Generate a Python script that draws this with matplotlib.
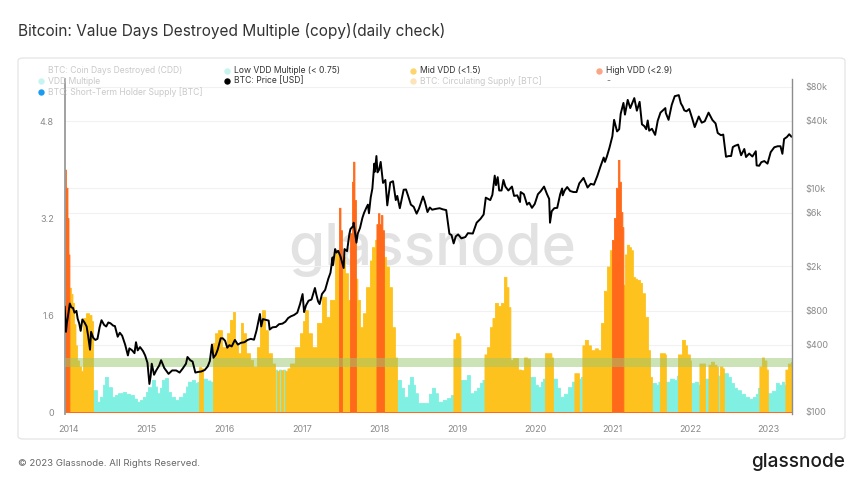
import numpy as np
import pandas as pd
import matplotlib
matplotlib.use("Agg")
import matplotlib.pyplot as plt
from matplotlib.lines import Line2D
from matplotlib.patches import FancyBboxPatch

plt.rcParams['font.family'] = ['Inter', 'DejaVu Sans']

# ---------------- data ----------------
# BTC price (USD)
price_dates = [
    "2013-12-12", "2013-12-18", "2013-12-22", "2013-12-28", "2014-01-05", "2014-01-12", "2014-01-20", "2014-01-27",
    "2014-02-05", "2014-02-11", "2014-02-18", "2014-02-25", "2014-03-05", "2014-03-15", "2014-03-25", "2014-04-01",
    "2014-04-10", "2014-04-15", "2014-04-25", "2014-05-05", "2014-05-15", "2014-05-25", "2014-06-03", "2014-06-15",
    "2014-06-25", "2014-07-05", "2014-07-15", "2014-07-28", "2014-08-05", "2014-08-18", "2014-08-28", "2014-09-08",
    "2014-09-22", "2014-10-05", "2014-10-12", "2014-10-25", "2014-11-05", "2014-11-12", "2014-11-20", "2014-12-01",
    "2014-12-15", "2014-12-25", "2015-01-05", "2015-01-14", "2015-01-20", "2015-01-25", "2015-02-05", "2015-02-15",
    "2015-03-01", "2015-03-10", "2015-03-25", "2015-04-14", "2015-05-01", "2015-05-20", "2015-06-05", "2015-06-20",
    "2015-07-05", "2015-07-12", "2015-07-25", "2015-08-05", "2015-08-18", "2015-09-01", "2015-09-15", "2015-10-01",
    "2015-10-15", "2015-10-25", "2015-11-04", "2015-11-11", "2015-11-22", "2015-12-01", "2015-12-15", "2015-12-25",
    "2016-01-05", "2016-01-15", "2016-01-25", "2016-02-05", "2016-02-20", "2016-03-05", "2016-03-20", "2016-04-05",
    "2016-04-20", "2016-05-05", "2016-05-20", "2016-06-01", "2016-06-12", "2016-06-17", "2016-06-23", "2016-07-01",
    "2016-07-15", "2016-07-28", "2016-08-02", "2016-08-15", "2016-09-01", "2016-09-15", "2016-10-01", "2016-10-15",
    "2016-10-28", "2016-11-10", "2016-11-25", "2016-12-10", "2016-12-23", "2017-01-04", "2017-01-11", "2017-01-20",
    "2017-02-01", "2017-02-15", "2017-03-03", "2017-03-10", "2017-03-18", "2017-03-25", "2017-04-05", "2017-04-20",
    "2017-05-05", "2017-05-15", "2017-05-25", "2017-05-27", "2017-06-06", "2017-06-12", "2017-06-20", "2017-07-01",
    "2017-07-16", "2017-07-20", "2017-08-01", "2017-08-12", "2017-08-17", "2017-08-30", "2017-09-01", "2017-09-14",
    "2017-09-20", "2017-10-01", "2017-10-12", "2017-10-20", "2017-11-01", "2017-11-07", "2017-11-12", "2017-11-20",
    "2017-11-28", "2017-12-07", "2017-12-10", "2017-12-17", "2017-12-22", "2017-12-29", "2018-01-06", "2018-01-17",
    "2018-01-28", "2018-02-06", "2018-02-20", "2018-03-05", "2018-03-18", "2018-03-25", "2018-04-06", "2018-04-24",
    "2018-05-05", "2018-05-15", "2018-05-28", "2018-06-10", "2018-06-24", "2018-07-05", "2018-07-24", "2018-08-01",
    "2018-08-14", "2018-08-25", "2018-09-05", "2018-09-20", "2018-10-10", "2018-10-25", "2018-11-10", "2018-11-20",
    "2018-11-25", "2018-12-05", "2018-12-15", "2018-12-25", "2019-01-05", "2019-01-20", "2019-02-08", "2019-02-20",
    "2019-03-15", "2019-04-02", "2019-04-20", "2019-05-05", "2019-05-15", "2019-05-25", "2019-06-05", "2019-06-15",
    "2019-06-26", "2019-07-02", "2019-07-10", "2019-07-17", "2019-07-28", "2019-08-06", "2019-08-15", "2019-08-29",
    "2019-09-15", "2019-09-25", "2019-10-10", "2019-10-23", "2019-10-26", "2019-11-10", "2019-11-25", "2019-12-05",
    "2019-12-18", "2019-12-31", "2020-01-15", "2020-01-28", "2020-02-13", "2020-02-27", "2020-03-08", "2020-03-12",
    "2020-03-20", "2020-04-01", "2020-04-15", "2020-04-29", "2020-05-08", "2020-05-11", "2020-05-20", "2020-06-01",
    "2020-06-15", "2020-07-01", "2020-07-15", "2020-07-28", "2020-08-17", "2020-09-05", "2020-09-20", "2020-10-05",
    "2020-10-21", "2020-11-05", "2020-11-20", "2020-11-26", "2020-12-05", "2020-12-17", "2020-12-31", "2021-01-08",
    "2021-01-22", "2021-02-01", "2021-02-08", "2021-02-21", "2021-02-28", "2021-03-13", "2021-03-25", "2021-04-13",
    "2021-04-25", "2021-05-08", "2021-05-19", "2021-05-30", "2021-06-08", "2021-06-15", "2021-06-22", "2021-07-05",
    "2021-07-20", "2021-08-01", "2021-08-14", "2021-09-06", "2021-09-08", "2021-09-21", "2021-10-06", "2021-10-20",
    "2021-11-08", "2021-11-18", "2021-11-26", "2021-12-04", "2021-12-14", "2021-12-27", "2022-01-10", "2022-01-22",
    "2022-02-10", "2022-02-24", "2022-03-10", "2022-03-28", "2022-04-15", "2022-04-30", "2022-05-10", "2022-05-25",
    "2022-06-05", "2022-06-13", "2022-06-18", "2022-07-01", "2022-07-12", "2022-07-20", "2022-07-30", "2022-08-14",
    "2022-08-28", "2022-09-12", "2022-09-20", "2022-10-05", "2022-10-20", "2022-11-05", "2022-11-09", "2022-11-21",
    "2022-12-01", "2022-12-15", "2022-12-30", "2023-01-14", "2023-01-31", "2023-02-16", "2023-03-01", "2023-03-10",
    "2023-03-18", "2023-03-31", "2023-04-11", "2023-04-21",
]
price_usd = [
    870, 520, 620, 730, 930, 860, 850, 770,
    800, 680, 620, 530, 670, 630, 580, 480,
    360, 520, 460, 440, 450, 570, 660, 600,
    580, 630, 620, 590, 585, 470, 510, 480,
    400, 320, 370, 355, 335, 420, 355, 380,
    350, 320, 275, 178, 210, 270, 215, 235,
    260, 290, 247, 219, 235, 235, 225, 245,
    270, 310, 290, 282, 225, 228, 230, 237,
    255, 285, 400, 305, 325, 360, 455, 455,
    432, 375, 395, 385, 440, 400, 415, 420,
    440, 450, 442, 535, 670, 750, 580, 675,
    665, 655, 545, 570, 575, 608, 615, 640,
    690, 715, 735, 770, 920, 1130, 780, 895,
    985, 1010, 1280, 1110, 970, 920, 1130, 1230,
    1550, 1750, 2400, 2050, 2850, 2650, 2750, 2450,
    1930, 2850, 2730, 3900, 4300, 4580, 4900, 3250,
    3900, 4400, 5400, 6000, 6750, 7100, 5950, 8200,
    9900, 16500, 14000, 19300, 13800, 14500, 17100, 11100,
    11800, 7000, 11200, 11500, 7800, 8500, 6600, 9650,
    9700, 8500, 7100, 6800, 5900, 6550, 8400, 7600,
    6100, 6700, 6400, 6500, 6600, 6450, 6350, 4600,
    3900, 3800, 3200, 3700, 3850, 3550, 3650, 3950,
    3920, 4900, 5300, 5800, 8200, 8000, 7800, 8700,
    12900, 10600, 12500, 9500, 9500, 11800, 10300, 9500,
    10300, 8500, 8600, 7500, 9200, 8800, 7100, 7400,
    6650, 7200, 8800, 9350, 10300, 8800, 8000, 4900,
    6200, 6600, 6650, 8800, 9900, 8600, 9500, 10200,
    9400, 9200, 9200, 11000, 12300, 10100, 10900, 10700,
    12800, 15600, 18700, 17100, 19100, 22800, 29000, 40600,
    32000, 33500, 46000, 57500, 45200, 61200, 51700, 63500,
    49000, 58800, 37000, 35700, 33500, 40100, 32500, 33800,
    29800, 39800, 47100, 51700, 46800, 40600, 55300, 66000,
    67500, 56900, 53600, 49300, 48400, 50700, 41900, 35000,
    43500, 38300, 39400, 47100, 40500, 37700, 31000, 29600,
    30000, 22500, 19000, 19300, 19300, 23200, 23800, 24400,
    19600, 22300, 18900, 20300, 19100, 21300, 15900, 15800,
    17000, 17400, 16500, 20900, 23100, 23600, 23600, 20200,
    27400, 28500, 30200, 28800,
]

# VDD multiple (decimal year, value, regime: L=low, M=mid, H=high)
vdd_year = [
    2013.949, 2013.961, 2013.981, 2013.994, 2014.006, 2014.026, 2014.045, 2014.064, 2014.084, 2014.103,
    2014.129, 2014.155, 2014.180, 2014.219, 2014.258, 2014.290, 2014.309, 2014.360, 2014.399, 2014.438,
    2014.464, 2014.502, 2014.554, 2014.592, 2014.631, 2014.695, 2014.734, 2014.785, 2014.837, 2014.876,
    2014.914, 2014.953, 2014.991, 2015.017, 2015.069, 2015.107, 2015.133, 2015.172, 2015.197, 2015.236,
    2015.275, 2015.313, 2015.365, 2015.416, 2015.468, 2015.506, 2015.532, 2015.584, 2015.622, 2015.654,
    2015.674, 2015.700, 2015.725, 2015.777, 2015.822, 2015.854, 2015.880, 2015.918, 2015.970, 2016.034,
    2016.073, 2016.111, 2016.137, 2016.176, 2016.214, 2016.240, 2016.279, 2016.330, 2016.369, 2016.420,
    2016.459, 2016.485, 2016.524, 2016.562, 2016.614, 2016.652, 2016.678, 2016.704, 2016.730, 2016.755,
    2016.781, 2016.813, 2016.845, 2016.910, 2016.974, 2017.013, 2017.039, 2017.077, 2017.129, 2017.193,
    2017.257, 2017.309, 2017.360, 2017.425, 2017.457, 2017.476, 2017.496, 2017.515, 2017.553, 2017.592,
    2017.618, 2017.644, 2017.657, 2017.676, 2017.695, 2017.714, 2017.747, 2017.785, 2017.824, 2017.875,
    2017.901, 2017.940, 2017.959, 2017.978, 2017.998, 2018.017, 2018.036, 2018.056, 2018.081, 2018.120,
    2018.159, 2018.197, 2018.223, 2018.275, 2018.313, 2018.365, 2018.390, 2018.429, 2018.455, 2018.493,
    2018.583, 2018.635, 2018.674, 2018.712, 2018.751, 2018.815, 2018.867, 2018.918, 2018.950, 2018.983,
    2019.021, 2019.041, 2019.073, 2019.124, 2019.163, 2019.214, 2019.253, 2019.292, 2019.324, 2019.350,
    2019.382, 2019.420, 2019.453, 2019.485, 2019.523, 2019.562, 2019.601, 2019.633, 2019.659, 2019.684,
    2019.717, 2019.742, 2019.781, 2019.820, 2019.858, 2019.897, 2019.935, 2020.000, 2020.038, 2020.077,
    2020.103, 2020.128, 2020.180, 2020.212, 2020.232, 2020.283, 2020.322, 2020.373, 2020.425, 2020.476,
    2020.508, 2020.534, 2020.566, 2020.592, 2020.611, 2020.643, 2020.682, 2020.721, 2020.772, 2020.811,
    2020.850, 2020.888, 2020.927, 2020.965, 2020.991, 2021.017, 2021.043, 2021.068, 2021.088, 2021.107,
    2021.126, 2021.139, 2021.158, 2021.184, 2021.210, 2021.236, 2021.261, 2021.287, 2021.313, 2021.352,
    2021.378, 2021.416, 2021.455, 2021.481, 2021.506, 2021.558, 2021.590, 2021.609, 2021.648, 2021.674,
    2021.686, 2021.738, 2021.790, 2021.828, 2021.841, 2021.893, 2021.931, 2021.957, 2021.995, 2022.008,
    2022.060, 2022.099, 2022.118, 2022.163, 2022.189, 2022.214, 2022.234, 2022.266, 2022.305, 2022.337,
    2022.356, 2022.382, 2022.414, 2022.433, 2022.485, 2022.523, 2022.562, 2022.601, 2022.652, 2022.704,
    2022.755, 2022.807, 2022.845, 2022.871, 2022.890, 2022.922, 2022.948, 2022.980, 2022.999, 2023.051,
    2023.103, 2023.141, 2023.180, 2023.206, 2023.225, 2023.257, 2023.283, 2023.300,
]
vdd_value = [
    4.00, 3.70, 3.20, 2.60, 2.05, 1.95, 1.80, 1.45, 1.10, 0.85,
    0.75, 0.68, 1.55, 1.63, 1.60, 1.50, 0.36, 0.17, 0.25, 0.45,
    0.58, 0.41, 0.25, 0.28, 0.31, 0.33, 0.30, 0.28, 0.22, 0.17,
    0.20, 0.25, 0.33, 0.41, 0.53, 0.42, 0.31, 0.40, 0.53, 0.56,
    0.33, 0.25, 0.20, 0.25, 0.31, 0.42, 0.50, 0.53, 0.48, 0.50,
    0.74, 0.72, 0.55, 0.52, 0.50, 1.14, 1.30, 1.35, 1.07, 1.30,
    1.52, 1.65, 1.14, 0.97, 1.47, 1.30, 0.97, 0.86, 0.75, 1.07,
    1.40, 1.68, 1.35, 0.97, 0.80, 0.70, 0.68, 0.70, 0.69, 0.70,
    0.68, 0.72, 0.80, 1.07, 1.30, 1.50, 1.68, 1.30, 1.07, 1.47,
    1.90, 1.57, 1.85, 2.62, 2.64, 3.37, 3.00, 2.56, 2.29, 1.85,
    2.95, 3.80, 4.13, 3.50, 2.20, 1.85, 1.40, 1.63, 2.06, 2.50,
    2.72, 2.84, 3.10, 3.28, 3.10, 3.25, 3.00, 2.56, 2.40, 2.06,
    1.40, 0.90, 0.53, 0.40, 0.25, 0.45, 0.58, 0.45, 0.31, 0.15,
    0.15, 0.30, 0.40, 0.31, 0.17, 0.20, 0.23, 0.28, 1.20, 1.30,
    1.25, 0.53, 0.53, 0.61, 0.31, 0.35, 0.40, 0.48, 0.53, 0.95,
    1.07, 1.40, 1.55, 1.80, 1.75, 1.80, 2.23, 2.06, 1.73, 0.86,
    0.89, 0.89, 0.70, 0.69, 0.90, 0.88, 0.58, 0.45, 0.41, 0.50,
    0.55, 0.97, 0.97, 0.90, 0.55, 0.40, 0.25, 0.30, 0.41, 0.50,
    0.64, 0.64, 0.55, 0.58, 1.10, 1.19, 1.10, 1.02, 1.05, 1.02,
    1.47, 2.00, 2.40, 2.67, 2.84, 3.20, 3.70, 4.16, 3.80, 3.30,
    3.05, 2.10, 2.60, 2.76, 2.72, 2.67, 2.23, 2.20, 2.18, 2.13,
    1.96, 1.57, 1.02, 0.58, 0.48, 0.45, 0.50, 0.97, 0.97, 0.95,
    0.50, 0.55, 0.53, 0.60, 0.95, 1.19, 1.10, 0.95, 0.85, 0.48,
    0.50, 0.45, 0.80, 0.80, 0.55, 0.55, 0.78, 0.83, 0.78, 0.75,
    0.60, 0.75, 0.72, 0.64, 0.58, 0.48, 0.40, 0.36, 0.30, 0.25,
    0.22, 0.25, 0.30, 0.40, 0.75, 0.90, 0.85, 0.70, 0.31, 0.35,
    0.48, 0.45, 0.50, 0.45, 0.70, 0.80, 0.80, 0.82,
]
vdd_regime = (
    "HHHHMMMMMM"
    "MMMMMMLLLL"
    "LLLLLLLLLL"
    "LLLLLLLLLL"
    "LLLLLLLLLL"
    "MMLLLMMMMM"
    "MMMMMMMMMM"
    "MMMMMLMLML"
    "MMMMMMMMMM"
    "MMMMMHHMMM"
    "HHHHMMMMMM"
    "MMHHHHHMMM"
    "MMLLLLLLLL"
    "LLLLLLLLMM"
    "MLLLLLLLLM"
    "MMMMMMMMMM"
    "MMMMMMLLLL"
    "LMMMLLLLLL"
    "MMLLMMMMMM"
    "MMMMHHHHHH"
    "HMMMMMMMMM"
    "MMMMLLLMMM"
    "LLLLMMMMML"
    "LLMMLLMMMM"
    "LMMLLLLLLL"
    "LLLLMMMMLL"
    "LLLLMMMM"
)
x_end = 2023.31

regime_colors = {"L": "#7ff0e2", "M": "#fec21e", "H": "#ff6a1a"}

left_ticks = [0, 1.6, 3.2, 4.8]
left_ticklabels = ["0", "1.6", "3.2", "4.8"]
right_ticks = [100, 400, 800, 2000, 6000, 10000, 40000, 80000]
right_ticklabels = ["$100", "$400", "$800", "$2k", "$6k", "$10k", "$40k", "$80k"]
year_ticks = list(range(2014, 2024))
band_low, band_high = 0.74, 0.89

# ---------------- figure ----------------
W, H = 863, 484
fig = plt.figure(figsize=(W / 100, H / 100), dpi=100)
fig.patch.set_facecolor("white")

def fx(px):
    return px / W

def fy(py):
    return 1 - py / H

# card
card = FancyBboxPatch((fx(18), fy(439)), fx(845) - fx(18), fy(58) - fy(439),
                      boxstyle="round,pad=0,rounding_size=0.006", transform=fig.transFigure,
                      facecolor="none", edgecolor="#e4e4e4", linewidth=0.9)
fig.add_artist(card)

ax_l, ax_r, ax_t, ax_b = 65, 792, 79, 414
rect = [fx(ax_l), fy(ax_b), fx(ax_r) - fx(ax_l), fy(ax_t) - fy(ax_b)]

ylo = -2 / 60.6
yhi = (412 - ax_t) / 60.6
plo = 10 ** (2 - 2 / 112)
phi = 10 ** (2 + (412 - ax_t) / 112)

# grid / background axes
axg = fig.add_axes(rect)
axg.set_yscale("log")
axg.set_ylim(plo, phi)
axg.set_xlim(vdd_year[0], x_end)
axg.set_yticks(right_ticks)
axg.yaxis.set_minor_locator(matplotlib.ticker.NullLocator())
axg.tick_params(left=False, labelleft=False, bottom=False, labelbottom=False)
axg.grid(axis="y", color="#f1f1f1", linewidth=0.8)
for s in axg.spines.values():
    s.set_visible(False)
axg.text(0.505, 0.49, "glassnode", transform=axg.transAxes, ha="center", va="center",
         fontsize=42, color="#e2e2e2", fontweight="medium", zorder=0.5)
axg.set_zorder(0)

# VDD filled steps, one layer per regime
ax = fig.add_axes(rect, sharex=axg)
ax.set_zorder(1)
ax.patch.set_visible(False)
t = np.array(vdd_year)
vals = np.array(vdd_value)
reg = np.array(list(vdd_regime))
for r, col in regime_colors.items():
    m = reg == r
    ax.fill_between(t, np.where(m, vals, 0.0), 0, step="post", color=col,
                    linewidth=0.6, edgecolor=col, antialiased=False, zorder=2)
# last sample extends to the right edge of the plot
ax.fill_between([t[-1], x_end], [vals[-1], vals[-1]], 0, color=regime_colors[reg[-1]],
                linewidth=0, antialiased=False, zorder=2)
ax.axhspan(band_low, band_high, color="#9bc771", alpha=0.5, linewidth=0, zorder=3)
ax.set_ylim(ylo, yhi)
ax.set_xlim(vdd_year[0], x_end)
ax.set_yticks(left_ticks)
ax.set_yticklabels(left_ticklabels)
ax.set_xticks(year_ticks)
ax.set_xticklabels([str(y) for y in year_ticks])
ax.tick_params(axis="y", length=0, pad=8, labelsize=6.5, labelcolor="#8a8a8a")
ax.tick_params(axis="x", length=0, pad=8, labelsize=6.5, labelcolor="#8a8a8a")
for k in ["top", "right", "bottom"]:
    ax.spines[k].set_visible(False)
ax.spines["left"].set_color("#9a9a9a")
ax.spines["left"].set_linewidth(1.3)

# price axis
ax2 = ax.twinx()
ax2.set_zorder(2)
ax2.patch.set_visible(False)
pd_dates = pd.to_datetime(price_dates)
p_year = pd_dates.year + (pd_dates.dayofyear - 1) / np.where(pd_dates.is_leap_year, 366, 365)
ax2.plot(p_year, price_usd, color="black", linewidth=1.4, solid_joinstyle="round")
ax2.set_yscale("log")
ax2.set_ylim(plo, phi)
ax2.set_yticks(right_ticks)
ax2.set_yticklabels(right_ticklabels)
ax2.yaxis.set_minor_locator(matplotlib.ticker.NullLocator())
ax2.tick_params(axis="y", length=0, pad=10, labelsize=6.5, labelcolor="#8a8a8a")
for k in ["top", "left", "bottom"]:
    ax2.spines[k].set_visible(False)
ax2.spines["right"].set_color("#8c8c8c")
ax2.spines["right"].set_linewidth(1.0)

# title & footer
fig.text(fx(18), fy(31), "Bitcoin: Value Days Destroyed Multiple (copy)(daily check)",
         fontsize=11.1, color="#333333", ha="left", va="center")
fig.text(fx(18), fy(463), "\u00a9 2023 Glassnode. All Rights Reserved.",
         fontsize=6.9, color="#666666", ha="left", va="center")
fig.text(fx(845), fy(462), "glassnode", fontsize=13.7, color="#1d1d1d", ha="right",
         va="center", fontweight="medium")

# legend
legend_items = [
    (None, 48, 70.5, "BTC: Coin Days Destroyed (CDD)", "#c9c9c9"),
    ("#c6f4f0", 48, 81, "VDD Multiple", "#c9c9c9"),
    ("#1b9cf2", 48, 92, "BTC: Short-Term Holder Supply [BTC]", "#c9c9c9"),
    ("#c6f4f0", 234, 70.5, "Low VDD Multiple (< 0.75)", "#333333"),
    ("#000000", 234, 81, "BTC: Price [USD]", "#333333"),
    ("#fdd56b", 420, 70.5, "Mid VDD (<1.5)", "#333333"),
    ("#fde3b8", 420, 81, "BTC: Circulating Supply [BTC]", "#c9c9c9"),
    ("#fba585", 606, 70.5, "High VDD (<2.9)", "#333333"),
    (None, 606, 81, "-", "#666666"),
]
for mcol, px, py, label, tcol in legend_items:
    if mcol is not None:
        fig.add_artist(Line2D([fx(px - 7)], [fy(py)], marker="o", markersize=4.6,
                              markerfacecolor=mcol, markeredgewidth=0,
                              transform=fig.transFigure))
    fig.text(fx(px), fy(py), label, fontsize=6.2, color=tcol, ha="left", va="center")

fig.savefig("out.png", dpi=100, facecolor="white")
